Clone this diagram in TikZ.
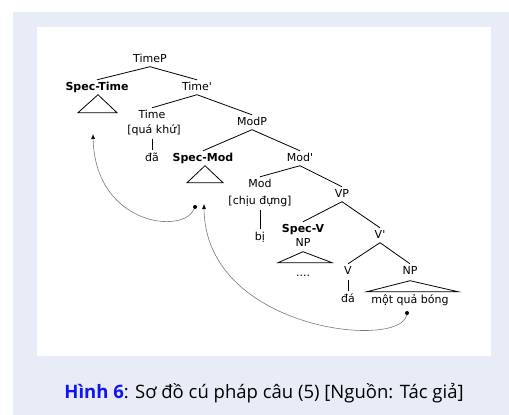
\documentclass[tikz,border=0pt]{standalone}
\usepackage{fontspec}
\setmainfont{DejaVu Sans}[Ligatures=TeXOff]
\newfontfamily\capfont{Open Sans}
\usetikzlibrary{arrows.meta,calc}
\definecolor{panelblue}{HTML}{E8ECF6}
\definecolor{capblue}{HTML}{1414F0}
\definecolor{curvegray}{HTML}{7A7A7A}
\tikzset{
  tn/.style={font=\fontsize{11}{13}\selectfont, inner sep=2pt, text height=8pt, text depth=2.5pt, anchor=base},
  tb/.style={tn, font=\fontsize{11}{13}\selectfont\bfseries},
  branch/.style={line width=0.8pt, black},
  tri/.style={line width=0.8pt, black},
  movecurve/.style={curvegray, line width=0.6pt},
  trace/.style={circle, fill=black, inner sep=0pt, minimum size=4pt}
}
\begin{document}
\begin{tikzpicture}[x=1pt,y=-1pt]
\useasboundingbox (0,0) rectangle (509,415);
\fill[white] (0,0) rectangle (509,415);
\fill[panelblue] (13,12) rectangle (509,415);
\fill[white] (37,27) rectangle (491,356);

% nodes
\node[tn] (TimeP) at (150,62) {TimeP};
\node[tb] (SpecTime) at (97,90) {Spec-Time};
\node[tn] (TimeBar) at (197,90) {Time'};
\node[tn] (Time) at (152,118) {Time};
\node[tn] (TimeF) at (154,133) {[quá khứ]};
\node[tn] (da) at (152,161) {đã};
\node[tn] (ModP) at (252,125) {ModP};
\node[tb] (SpecMod) at (203,161) {Spec-Mod};
\node[tn] (ModBar) at (300,161) {Mod'};
\node[tn] (Mod) at (260,187) {Mod};
\node[tn] (ModF) at (260,204) {[chịu đựng]};
\node[tn] (bi) at (260,240) {bị};
\node[tn] (VP) at (342,197) {VP};
\node[tb] (SpecV) at (303,232) {Spec-V};
\node[tn] (SpecNP) at (303,246) {NP};
\node[tn] (dots) at (303,276) {....};
\node[tn] (VBar) at (380,238) {V'};
\node[tn] (V) at (348,274) {V};
\node[tn] (NP) at (410,274) {NP};
\node[tn] (daa) at (348,302) {đá};
\node[tn] (mqb) at (410,303) {một quả bóng};

% branches
\draw[branch] (TimeP.south) -- (SpecTime.north);
\draw[branch] (TimeP.south) -- (TimeBar.north);
\draw[branch] (TimeBar.south) -- (Time.north);
\draw[branch] (TimeBar.south) -- (ModP.north);
\draw[branch] ($(da.north |- TimeF.south)+(0,1)$) -- ($(da.north)+(0,-1)$);
\draw[branch] (ModP.south) -- (SpecMod.north);
\draw[branch] (ModP.south) -- (ModBar.north);
\draw[branch] (ModBar.south) -- (Mod.north);
\draw[branch] (ModBar.south) -- (VP.north);
\draw[branch] ($(ModF.south)+(0,1)$) -- ($(bi.north)+(0,-1)$);
\draw[branch] (VP.south) -- (SpecV.north);
\draw[branch] (VP.south) -- (VBar.north);
\draw[branch] (VBar.south) -- (V.north);
\draw[branch] (VBar.south) -- (NP.north);
\draw[branch] ($(V.south)+(0,1)$) -- ($(daa.north)+(0,-1)$);

% triangles
\draw[tri] ($(SpecTime.south)+(1,0)$) -- ++(-20,18) -- ++(39,0) -- cycle;
\draw[tri] ($(SpecMod.south)+(2,0)$) -- ++(-18,17) -- ++(36,0) -- cycle;
\draw[tri] ($(SpecNP.south)+(0,1)$) -- ++(-25,11) -- ++(54,0) -- cycle;
\draw[tri] ($(NP.south)+(0,2)$) -- ++(-43,11) -- ++(91,0) -- cycle;

% movement
\node[trace] (t1) at (195,207) {};
\node[trace] (t2) at (407,313) {};
\coordinate (a1) at (93,134);
\coordinate (a2) at (204,204);
\draw[movecurve, -{Latex[length=5pt,width=4pt,black]}] (t1) .. controls (183,235) and (95,225) .. (a1);
\draw[movecurve, -{Latex[length=5pt,width=4pt,black]}] (t2) .. controls (400,350) and (205,330) .. (a2);

% caption
\node[font=\capfont\fontsize{18.5}{22}\selectfont, anchor=base, inner sep=0pt] (cap) at (264,398)
  {{\color{capblue}\bfseries Hình 6}: Sơ đồ cú pháp câu (5) [Nguồn: Tác giả]};
\end{tikzpicture}
\end{document}
